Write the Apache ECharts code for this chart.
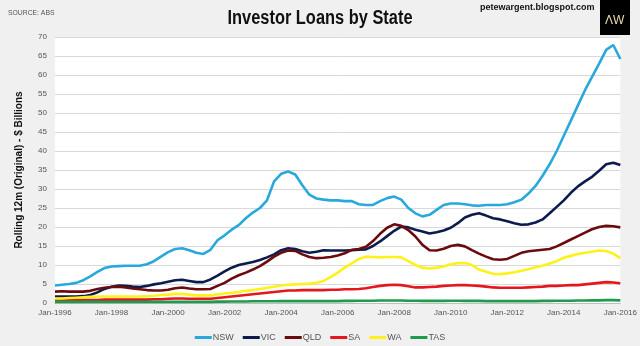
<!DOCTYPE html>
<html><head><meta charset="utf-8">
<script src="https://cdn.jsdelivr.net/npm/echarts@6/dist/echarts.min.js"></script>
<style>html,body{margin:0;padding:0;background:#f0f0f0}#c{width:640px;height:346px}</style>
</head><body><div id="c"></div>
<script>
// Quarterly points, Jan-1996 .. Jan-2016
const monthNames = ['Jan','Apr','Jul','Oct'];
const categories = [];
for (let y = 1996; y <= 2016; y++) for (let q = 0; q < 4; q++) { if (y === 2016 && q > 0) break; categories.push(monthNames[q] + '-' + y); }

const seriesNames = ['NSW','VIC','QLD','SA','WA','TAS'];
const NSW = [4.6,4.8,5.0,5.3, 6.0,7.0,8.2,9.2, 9.6,9.7,9.8,9.8, 9.8,10.2,11.0,12.2, 13.4,14.2,14.4,13.9,
  13.2,12.9,14.0,16.5, 17.8,19.3,20.5,22.3, 23.8,25.0,27.0,32.0, 34.0,34.6,33.8,31.0, 28.5,27.5,27.2,27.0,
  27.0,26.8,26.8,26.0, 25.8,25.8,26.8,27.6, 28.0,27.2,25.0,23.6, 22.8,23.2,24.5,25.8, 26.2,26.2,26.0,25.7,
  25.6,25.8,25.8,25.8, 26.0,26.5,27.2,28.8, 30.8,33.5,36.5,40.0, 44.0,48.0,52.0,56.0, 59.5,63.0,66.6,67.9, 64.2];
const VIC = [1.7,1.7,1.7,1.7, 1.8,2.1,2.8,3.7, 4.3,4.6,4.5,4.3, 4.2,4.5,4.9,5.2, 5.6,6.0,6.1,5.8,
  5.5,5.5,6.2,7.2, 8.3,9.3,10.0,10.4, 10.8,11.3,12.0,12.8, 13.9,14.4,14.2,13.6, 13.2,13.5,13.9,13.8,
  13.8,13.8,13.9,14.0, 14.1,15.0,16.2,17.6, 19.0,20.1,19.9,19.3, 18.8,18.3,18.6,19.1, 19.8,21.0,22.5,23.2,
  23.6,23.0,22.3,22.0, 21.5,21.0,20.6,20.7, 21.2,22.0,23.6,25.3, 27.0,29.0,30.7,32.0, 33.2,34.8,36.5,36.9, 36.3];
const QLD = [3.0,3.1,3.0,3.0, 3.0,3.2,3.7,4.0, 4.2,4.3,4.1,3.8, 3.6,3.4,3.3,3.3, 3.5,3.9,4.1,3.8,
  3.6,3.6,3.7,4.5, 5.3,6.4,7.3,8.0, 8.8,9.7,10.9,12.2, 13.2,13.8,13.7,12.8, 12.1,11.8,11.9,12.1,
  12.5,13.1,14.0,14.2, 14.8,16.3,18.2,19.8, 20.7,20.3,19.2,17.5, 15.3,13.9,13.8,14.3, 15.0,15.3,14.9,13.9,
  13.0,12.2,11.5,11.4, 11.6,12.4,13.2,13.6, 13.8,14.0,14.2,14.9, 15.8,16.7,17.6,18.5, 19.4,20.0,20.3,20.2, 19.9];
const SA = [0.8,0.8,0.8,0.8, 0.8,0.8,0.8,0.9, 0.9,0.9,0.9,0.9, 0.9,0.9,1.0,1.0, 1.1,1.2,1.2,1.1,
  1.1,1.1,1.1,1.3, 1.5,1.7,1.9,2.1, 2.3,2.5,2.7,2.9, 3.1,3.3,3.3,3.4, 3.4,3.4,3.4,3.5,
  3.5,3.6,3.6,3.7, 3.9,4.2,4.5,4.7, 4.8,4.7,4.4,4.1, 4.1,4.2,4.3,4.5, 4.6,4.7,4.7,4.6,
  4.5,4.3,4.1,4.0, 4.0,4.0,4.0,4.1, 4.2,4.3,4.5,4.5, 4.6,4.7,4.7,4.9, 5.1,5.3,5.5,5.4, 5.2];
const WA = [1.2,1.2,1.3,1.4, 1.5,1.6,1.7,1.7, 1.7,1.7,1.7,1.7, 1.7,1.8,1.9,2.1, 2.2,2.4,2.4,2.2,
  2.0,2.0,2.0,2.3, 2.5,2.7,2.9,3.2, 3.4,3.7,4.0,4.3, 4.6,4.8,4.9,5.0, 5.1,5.3,5.8,6.8,
  8.0,9.3,10.4,11.6, 12.2,12.1,12.0,12.1, 12.1,12.0,11.0,10.0, 9.3,9.1,9.3,9.6, 10.2,10.5,10.5,10.0,
  8.8,8.2,7.7,7.6, 7.8,8.1,8.5,8.9, 9.4,9.8,10.4,11.0, 11.9,12.4,12.9,13.2, 13.5,13.8,13.7,13.0, 11.8];
const TAS = [0.3,0.3,0.3,0.3, 0.3,0.3,0.3,0.3, 0.3,0.3,0.3,0.3, 0.3,0.3,0.3,0.3, 0.3,0.3,0.3,0.3,
  0.3,0.3,0.3,0.35, 0.35,0.4,0.4,0.4, 0.45,0.45,0.45,0.45, 0.5,0.5,0.5,0.5, 0.5,0.5,0.5,0.5,
  0.5,0.55,0.55,0.6, 0.6,0.6,0.65,0.65, 0.65,0.65,0.6,0.6, 0.55,0.55,0.55,0.55, 0.6,0.6,0.55,0.55,
  0.55,0.5,0.5,0.5, 0.5,0.5,0.5,0.5, 0.5,0.55,0.55,0.6, 0.6,0.6,0.65,0.65, 0.7,0.7,0.75,0.75, 0.7];
const seriesData = [NSW, VIC, QLD, SA, WA, TAS];
const colors = ['#29A8DC','#0C1B4D','#6B0B0E','#E5161D','#FFF21A','#1E9B4C'];

const FONT = "'Liberation Sans Narrow','Arial Narrow','Liberation Sans',sans-serif";
const chart = echarts.init(document.getElementById('c'));
chart.setOption({
  backgroundColor: '#f0f0f0',
  animation: false,
  graphic: [
    { type: 'text', x: 320, y: 18, scaleX: 0.82, style: { text: 'Investor Loans by State', font: "bold 20px " + FONT, fill: '#111', align: 'center', verticalAlign: 'middle' } },
    { type: 'text', x: 8, y: 13, scaleX: 0.85, style: { text: 'SOURCE: ABS', font: "8px " + FONT, fill: '#555', verticalAlign: 'middle' } },
    { type: 'text', left: 480, top: 3, style: { text: 'petewargent.blogspot.com', font: "bold 9px 'Liberation Sans',sans-serif", fill: '#111' } },
    { type: 'rect', shape: { x: 600, y: 0, width: 30, height: 35 }, style: { fill: '#000' } },
    { type: 'text', left: 605, top: 15, style: { text: 'ΛW', font: "12px 'Liberation Sans',sans-serif", fill: '#eadca8' } }
  ],
  legend: {
    data: seriesNames, left: 'center', top: 328, icon: 'rect', itemWidth: 17, itemHeight: 3, itemGap: 9,
    textStyle: { fontFamily: FONT, fontSize: 9, color: '#555', padding: [0,0,0,-4] }
  },
  grid: { left: 55, right: 19, top: 37, bottom: 43, show: true, backgroundColor: '#fff', borderWidth: 0 },
  xAxis: {
    type: 'category', data: categories, boundaryGap: false,
    axisLine: { lineStyle: { color: '#bfbfbf' } }, axisTick: { show: false },
    axisLabel: { interval: (i) => i % 8 === 0, fontFamily: FONT, fontSize: 8, color: '#555', margin: 6 }
  },
  yAxis: {
    type: 'value', min: 0, max: 70, interval: 5,
    name: 'Rolling 12m (Original) - $ Billions', nameLocation: 'middle', nameGap: 31, nameRotate: 90,
    nameTextStyle: { fontFamily: FONT, fontSize: 10, fontWeight: 'bold', color: '#111' },
    axisLabel: { fontFamily: FONT, fontSize: 8, color: '#555', margin: 8 },
    splitLine: { lineStyle: { color: '#d9d9d9' } }, axisLine: { show: false }, axisTick: { show: false }
  },
  series: seriesNames.map((n, i) => ({
    name: n, type: 'line', data: seriesData[i], showSymbol: false, symbol: 'none',
    lineStyle: { width: 2.6, color: colors[i] }, itemStyle: { color: colors[i] }
  }))
});
</script></body></html>
